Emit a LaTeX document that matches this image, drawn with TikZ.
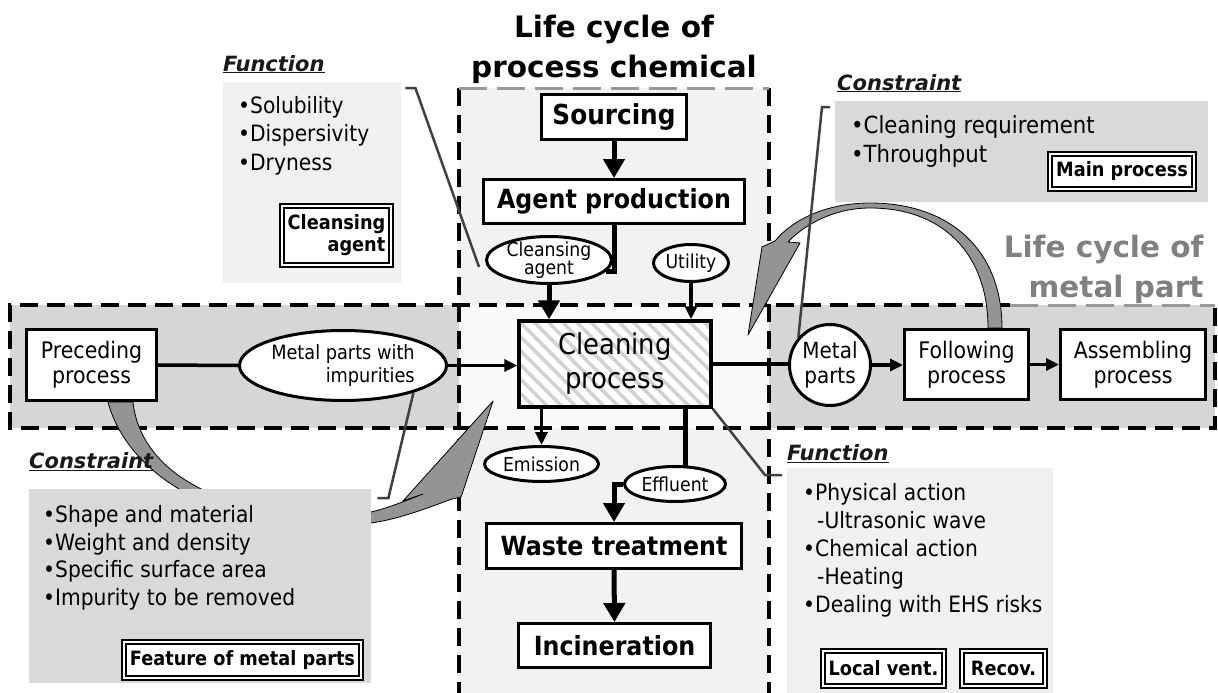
\documentclass[tikz,border=0pt]{standalone}
\usepackage{fontspec}
\setmainfont{DejaVu Sans}[FakeStretch=0.9]
\newfontfamily\widefont{DejaVu Sans}
\usetikzlibrary{arrows.meta,patterns.meta,shapes.geometric}
\newcommand\fsz[2]{\fontsize{#1pt}{#2pt}\selectfont}
\pgfdeclarelayer{bg}
\pgfdeclarelayer{edges}
\pgfsetlayers{bg,edges,main}

\begin{document}
\begin{tikzpicture}[x=1pt,y=-1pt,
  box/.style={draw, line width=3pt, inner sep=0pt, align=center},
  bbox/.style={box, fill=white, font=\bfseries\fsz{26.4}{30}},
  rbox/.style={box, fill=white, font=\fsz{22.8}{25}},
  oval/.style={ellipse, draw, line width=3pt, fill=white, inner sep=-2pt, align=center, font=\fsz{19.2}{19}},
  dbl/.style={draw, line width=1.8pt, double=white, double distance=2pt, fill=white, inner sep=0pt, font=\bfseries\fsz{19.7}{22}},
  gbox/.style={inner sep=0pt, anchor=north west},
  lab/.style={font=\widefont\bfseries\itshape\fsz{21}{24}, anchor=base west, inner sep=0pt, text=black!90},
  list/.style={anchor=north west, align=left, inner sep=0pt},
  flow/.style={line width=3.5pt},
  flowarrow/.style={flow, -{Triangle[length=13pt,width=12pt]}},
  fat/.style={line width=5pt},
  fatarrow/.style={fat, -{Triangle[length=19pt,width=21pt]}},
  callout/.style={draw=black!75, line width=2.5pt, line join=miter},
  bdash/.style={line width=4pt, dash pattern=on 18pt off 9pt},
  gdash/.style={line width=3pt, draw=black!40, dash pattern=on 28pt off 10pt},
  bigarrow/.style={fill=black!42, draw=black, line width=0.8pt, line join=round}
]
\useasboundingbox (0,0) rectangle (1218,693);

% ---------- life-cycle regions and the two curved block arrows ----------
\begin{pgfonlayer}{bg}
  \fill[black!16] (10,305) rectangle (1215,428);
  \fill[black!5] (459,88) rectangle (769,693);
  \fill[black!2] (459,305) rectangle (769,428);

  \draw[bdash] (1010,305) -- (10,305) -- (10,428) -- (1215,428) -- (1215,305);
  \draw[gdash] (1010,305) -- (1215,305);
  \draw[bdash] (459,88) -- (459,693);
  \draw[bdash] (769,88) -- (769,693);
  \draw[gdash] (459,88) -- (769,88);

  % following process -> cleaning process
  \filldraw[bigarrow] (1002,328) .. controls (1002,250) and (950,203) .. (870,203)
    .. controls (826,203) and (792,220) .. (775,241) -- (762,247) -- (748,335)
    -- (800,243) -- (788,242) .. controls (806,223) and (836,208) .. (870,208)
    .. controls (944,208) and (988,255) .. (988,328) -- cycle;
  % preceding process -> cleaning process
  \filldraw[bigarrow] (108,402) .. controls (128,478) and (230,540) .. (371,523)
    .. controls (400,519) and (430,507) .. (452,499) -- (461,497) -- (493,401)
    -- (403,501) -- (423,494) .. controls (405,501) and (388,508) .. (371,512)
    .. controls (220,525) and (140,470) .. (133,402) -- cycle;
\end{pgfonlayer}

% ---------- headings ----------
\node[font=\widefont\bfseries\fsz{29.5}{40}, align=center] (title) at (614,49) {Life cycle of\\process chemical};
\node[font=\widefont\bfseries\fsz{29.5}{40}, align=right, text=black!50, anchor=east] (mlc) at (1207,269) {Life cycle of\\metal part};

% ---------- annotation panels ----------
\node[gbox, fill=black!6, minimum width=178pt, minimum height=201pt] (fbox1) at (223,82) {};
\node[gbox, fill=black!15, minimum width=373pt, minimum height=101pt] (cbox2) at (835,101) {};
\node[gbox, fill=black!15, minimum width=342pt, minimum height=194pt] (cbox3) at (29,489) {};
\node[gbox, fill=black!6, minimum width=266pt, minimum height=225pt] (fbox4) at (787,468) {};

\node[lab] (lab1) at (223,71) {\underline{Function}};
\node[lab] (lab2) at (837,90) {\underline{Constraint}};
\node[lab] (lab3) at (29,468) {\underline{Constraint}};
\node[lab] (lab4) at (787,460) {\underline{Function}};

\node[list, font=\fsz{22.5}{28.5}] (l1) at (238,96) {•Solubility\\•Dispersivity\\•Dryness};
\node[list, font=\fsz{23.6}{29}] (l2) at (851,115) {•Cleaning requirement\\•Throughput};
\node[list, font=\fsz{22.5}{27.7}] (l3) at (43,505) {•Shape and material\\•Weight and density\\•Specific surface area\\•Impurity to be removed};
\node[list, font=\fsz{22.5}{28}] (l4) at (803,483) {•Physical action\\\hspace*{14pt}-Ultrasonic wave\\•Chemical action\\\hspace*{14pt}-Heating\\•Dealing with EHS risks};

\node[dbl, minimum width=109pt, minimum height=59pt, align=right] (tag1) at (336.5,235.5) {Cleansing\\agent};
\node[dbl, minimum width=144pt, minimum height=35pt] (tag2) at (1122,171.5) {Main process};
\node[dbl, minimum width=237pt, minimum height=36pt] (tag3) at (242.5,660) {Feature of metal parts};
\node[dbl, minimum width=121pt, minimum height=35pt] (tag4) at (883.5,668.5) {Local vent.};
\node[dbl, minimum width=83pt, minimum height=35pt] (tag5) at (1003.5,668.5) {Recov.};

% ---------- process chemical chain ----------
\node[bbox, minimum width=145pt, minimum height=45pt, font=\bfseries\fsz{27.5}{30}] (src) at (614,117) {Sourcing};
\node[bbox, minimum width=261pt, minimum height=44pt] (agent) at (614,201.5) {Agent production};
\node[oval, minimum width=125pt, minimum height=47pt, inner ysep=-5pt, font=\fsz{19.2}{17.5}] (ce) at (549,260) {Cleansing\\agent};
\node[oval, minimum width=75pt, minimum height=37pt] (util) at (691,263) {Utility};
\node[box, line width=4pt, minimum width=192pt, minimum height=86pt, font=\fsz{28.7}{34},
      preaction={fill=white}, pattern={Lines[angle=-45,distance=10pt,line width=3.5pt]},
      pattern color=black!18] (clean) at (615,364) {Cleaning\\process};
\node[oval, minimum width=114pt, minimum height=35pt] (emis) at (541.5,464) {Emission};
\node[oval, minimum width=101pt, minimum height=35pt] (eff) at (675,484) {Effluent};
\node[bbox, minimum width=255pt, minimum height=45pt] (waste) at (614,546) {Waste treatment};
\node[bbox, minimum width=192pt, minimum height=44pt] (incin) at (614.5,645.5) {Incineration};

% ---------- metal part chain ----------
\node[rbox, minimum width=130pt, minimum height=71pt] (prec) at (91.5,365) {Preceding\\process};
\node[oval, minimum width=207pt, minimum height=70pt, align=right, font=\fsz{19.7}{23}] (mpi) at (343,365.5) {Metal parts with\\impurities};
\node[circle, draw, line width=3pt, fill=white, minimum size=81pt, inner sep=0pt, align=center, font=\fsz{22.2}{25}] (mp) at (830,365) {Metal\\parts};
\node[rbox, minimum width=124pt, minimum height=70pt] (foll) at (966.5,364.5) {Following\\process};
\node[rbox, minimum width=145pt, minimum height=70pt] (asm) at (1133,364.5) {Assembling\\process};

% ---------- connectors ----------
\begin{pgfonlayer}{edges}
  \draw[fatarrow] (src.south) -- (agent.north);
  \draw[fat] (agent.south) |- (ce.-11);
  \draw[fatarrow] (ce.south) -- (ce.south |- clean.north);
  \draw[flowarrow] (util.south) -- (util.south |- clean.north);
  \draw[flow] (prec.east) -- (mpi.west);
  \draw[flowarrow] (mpi.east) -- (mpi.east -| clean.west);
  \draw[flow] (clean.east) -- (clean.east -| mp.west);
  \draw[flowarrow] (mp.east) -- (mp.east -| foll.west);
  \draw[flowarrow] (foll.east) -- (asm.west);
  \draw[flowarrow] (emis.north |- clean.south) -- (emis.north);
  \draw[fat] ([xshift=70pt]clean.south) -- ([xshift=70pt]clean.south |- eff.center);
  \draw[fatarrow] (eff.west) -| (waste.north);
  \draw[fatarrow] (waste.south) -- (incin.north);

  % callout leaders
  \draw[callout] ([xshift=4pt,yshift=-6pt]fbox1.north east) -- ++(10,0) -- ([xshift=-6pt,yshift=-7pt]ce.west);
  \draw[callout] ([xshift=-5pt,yshift=-6pt]cbox2.north west) -- ++(-8,0) -- (mp.139);
  \draw[callout] ([xshift=6pt,yshift=-9pt]cbox3.north east) -- ++(11,0) -- (mpi.-21);
  \draw[callout] (clean.south east) -- ([xshift=-22pt,yshift=-7pt]fbox4.north west) -- ([xshift=-5pt,yshift=-7pt]fbox4.north west);
\end{pgfonlayer}
\end{tikzpicture}
\end{document}
